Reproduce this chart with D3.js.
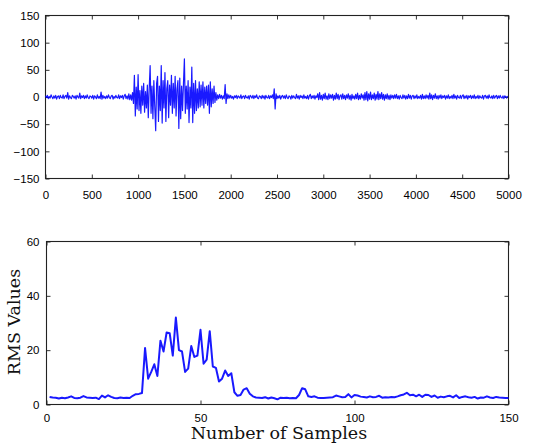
<!DOCTYPE html>
<html><head><meta charset="utf-8">
<script src="https://cdn.jsdelivr.net/npm/d3@7"></script>
<style>body{margin:0;background:#fff}svg{display:block}</style>
</head><body>
<svg id="c" width="556" height="448"></svg>
<script>
// ---- data ----
const signalStep = 10; // samples between stored points
const signalValues = [
 2,-1,3,-3,1,-2,4,0,-3,2, -2,3,-4,1,2,-3,3,-1,-2,4, -3,1,3,-2,8,-4,2,-1,-3,3,
 1,-2,2,-4,3,0,-2,7,-3,2, -1,3,-3,2,-2,4,-1,-3,2,1, -2,3,-4,2,0,-3,4,-2,1,-3,
 9,-4,3,-2,1,-3,2,-2,4,-1, -3,2,3,-4,1,-2,3,-1,-2,4, -3,2,-1,3,-4,2,5,-3,2,-4,
 6,-5,4,-6,8,
 -12,40,-35,18,-22,41,-25,12,-30,20,-15,25,-28,10,-20,22,-38,15,58,-30,
 20,-40,30,-18,-62,25,38,-45,20,-25,58,-48,30,-20,45,-45,15,30,-38,22,
 -15,40,-30,25,-20,38,-35,15,30,-58,35,-40,20,-25,25,70,-30,20,-22,30,
 -47,18,-20,55,-47,25,-30,30,-25,15,-20,28,-18,22,-15,28,-20,18,-12,20,
 -15,22,-30,28,-18,15,-12,20,-10,8,-6,
 4,-3,5,-2,3,-4,2,-3,23,-12,6,-3,4,-2,
 3,-2,1,-4,2,-1,3,-3,2,0, -2,4,-3,1,2,-3,3,-1,-2,2, -4,3,1,-2,3,-3,2,-1,4,-2,
 -3,2,1,-3,3,-2,2,-4,3,-1, -2,3,-3,2,-1,4,-3,
 15,-22,6,
 -3,2,-2,3,-4,1,3,-2,2,-3, 4,-1,-3,2,1,-4,3,-2,2,-1, -3,5,-2,2,-4,3,-1,2,-3,4,
 -2,1,-3,3,-4,2,5,-3,2,-2, 3,-4,2,-1,6,
 -5,8,-4,3,-6,5,-3,7,-4,2, -5,6,-3,4,-2,5,-6,3,-4,7, -3,5,-5,2,4,-4,6,-3,3,-5,
 4,-2,6,-4,3,-6,5,-3,2,-4, 5,-3,7,-5,3,-4,6,-2,4,-6, 8,-5,10,-7,6,-4,9,-5,4,-3,
 7,-6,5,-4,10,-5,6,-3,8,-4, 5,-6,4,-3,6,-4,3,-5,4,-2,
 3,-3,4,-2,5,-3,2,-4,3,-1, -3,4,-2,3,-4,2,-3,5,-2,3, -4,2,3,-3,2,-2,4,-3,1,-2,
 3,-4,5,-3,2,-3,4,-2,3,-4, 7,-3,4,-5,3,-2,6,-3,2,-4, 3,-2,4,-3,2,-1,3,-4,2,-2,
 4,-3,1,-2,3,-3,5,-2,2,-4, 3,-1,-2,3,-3,2,4,-3,2,-2, 3,-4,2,-1,3,-3,2,-2,4,-3,
 1,-2,3,-3,2,-1,-2,3,-4,2, 3,-2,2,-3,4,-1,-2,2,-3,3, -2,1,3,-3,2,-2,3,-1,-2,2,
 -3,2,1,-2,2
];
const rmsValues = [
 2.8,2.6,2.5,2.2,2.5,2.3,2.6,3.0,2.4,2.3,2.5,3.1,2.6,2.5,2.4,2.5,2.0,3.3,2.6,3.4,
 2.8,2.4,2.3,2.6,2.4,2.5,2.4,3.2,3.8,3.9,4.2,20.8,9.5,12.0,14.8,10.5,23.5,19.5,26.5,26.2,
 18.0,32.0,20.0,19.5,12.0,13.2,21.5,17.5,18.0,27.5,15.0,16.5,27.0,14.0,13.5,8.5,9.5,12.5,10.5,11.5,
 4.5,3.2,3.5,5.5,6.0,4.0,3.0,2.6,2.5,2.4,2.7,2.2,2.6,2.3,1.9,2.5,2.4,2.5,2.3,2.4,
 2.3,3.5,6.0,5.6,3.0,2.8,3.0,2.5,2.4,2.4,2.5,2.6,2.7,3.3,3.0,2.7,2.8,3.8,2.6,3.5,
 3.3,2.9,2.8,2.6,3.0,2.7,2.8,3.2,2.5,2.7,2.6,2.8,2.7,3.0,3.4,3.7,4.3,3.4,3.6,3.0,
 3.6,2.8,3.6,3.5,2.8,3.3,2.5,2.9,2.7,3.0,3.2,2.6,3.4,2.4,2.8,3.0,2.7,2.5,2.8,2.2,
 2.6,2.5,3.0,2.6,2.4,2.8,2.6,2.5,2.4,2.4
];
const topXTicks = [0,500,1000,1500,2000,2500,3000,3500,4000,4500,5000];
const topYTicks = [-150,-100,-50,0,50,100,150];
const botXTicks = [0,50,100,150];
const botYTicks = [0,20,40,60];
const xLabel = "Number of Samples";
const yLabel = "RMS Values";

// ---- drawing ----
const svg = d3.select("#c");
const blue = "#0000ff";
const tickFont = "'Liberation Sans', Arial, sans-serif";

function panel(x0, x1, y0, y1, xDom, yDom, xt, yt, xPad, yPad) {
  const x = d3.scaleLinear().domain(xDom).range([x0, x1]);
  const y = d3.scaleLinear().domain(yDom).range([y1, y0]);
  const g = svg.append("g");
  const fmt = d => d3.format("")(d).replace("-", "\u2212");
  const ax = [
    [d3.axisBottom(x).tickValues(xt).tickFormat(fmt).tickSizeInner(-4).tickSizeOuter(0).tickPadding(xPad), `translate(0,${y1})`],
    [d3.axisTop(x).tickValues(xt).tickFormat("").tickSizeInner(-4).tickSizeOuter(0), `translate(0,${y0})`],
    [d3.axisLeft(y).tickValues(yt).tickFormat(fmt).tickSizeInner(-4).tickSizeOuter(0).tickPadding(yPad), `translate(${x0},0)`],
    [d3.axisRight(y).tickValues(yt).tickFormat("").tickSizeInner(-4).tickSizeOuter(0), `translate(${x1},0)`]
  ];
  ax.forEach(([a, t]) => {
    const s = g.append("g").attr("transform", t).call(a);
    s.select(".domain").remove();
    s.selectAll("line").attr("stroke", "#333");
    s.selectAll("text").attr("font-family", tickFont).attr("font-size", 11.5).attr("fill", "#000");
  });
  g.append("rect").attr("x", x0).attr("y", y0).attr("width", x1 - x0).attr("height", y1 - y0)
    .attr("fill", "none").attr("stroke", "#222").attr("stroke-width", 1.1);
  return { x, y, g };
}

const topPanel = panel(45.5, 508.5, 15.5, 178.5, [0, 5000], [-150, 150], topXTicks, topYTicks, 12, 6);
topPanel.g.append("path")
  .datum(signalValues)
  .attr("fill", "none").attr("stroke", blue).attr("stroke-width", 1.2).attr("stroke-opacity", 0.9)
  .attr("stroke-linejoin", "round")
  .attr("d", d3.line().x((d, i) => topPanel.x(i * signalStep)).y(d => topPanel.y(d)));

const botPanel = panel(46.5, 508.5, 241.5, 404.5, [0, 150], [0, 60], botXTicks, botYTicks, 9, 7);
botPanel.g.append("path")
  .datum(rmsValues)
  .attr("fill", "none").attr("stroke", blue).attr("stroke-width", 2).attr("stroke-opacity", 0.9)
  .attr("stroke-linejoin", "round")
  .attr("d", d3.line().x((d, i) => botPanel.x(i + 1)).y(d => botPanel.y(d)));

svg.append("text").attr("x", 279).attr("y", 439).attr("text-anchor", "middle")
  .attr("font-family", "'DejaVu Serif', serif").attr("font-size", 17.5).attr("fill", "#111").text(xLabel);
svg.append("text").attr("transform", "translate(20,322) rotate(-90)").attr("text-anchor", "middle")
  .attr("font-family", "'DejaVu Serif', serif").attr("font-size", 17.5).attr("fill", "#111").text(yLabel);
</script>
</body></html>
